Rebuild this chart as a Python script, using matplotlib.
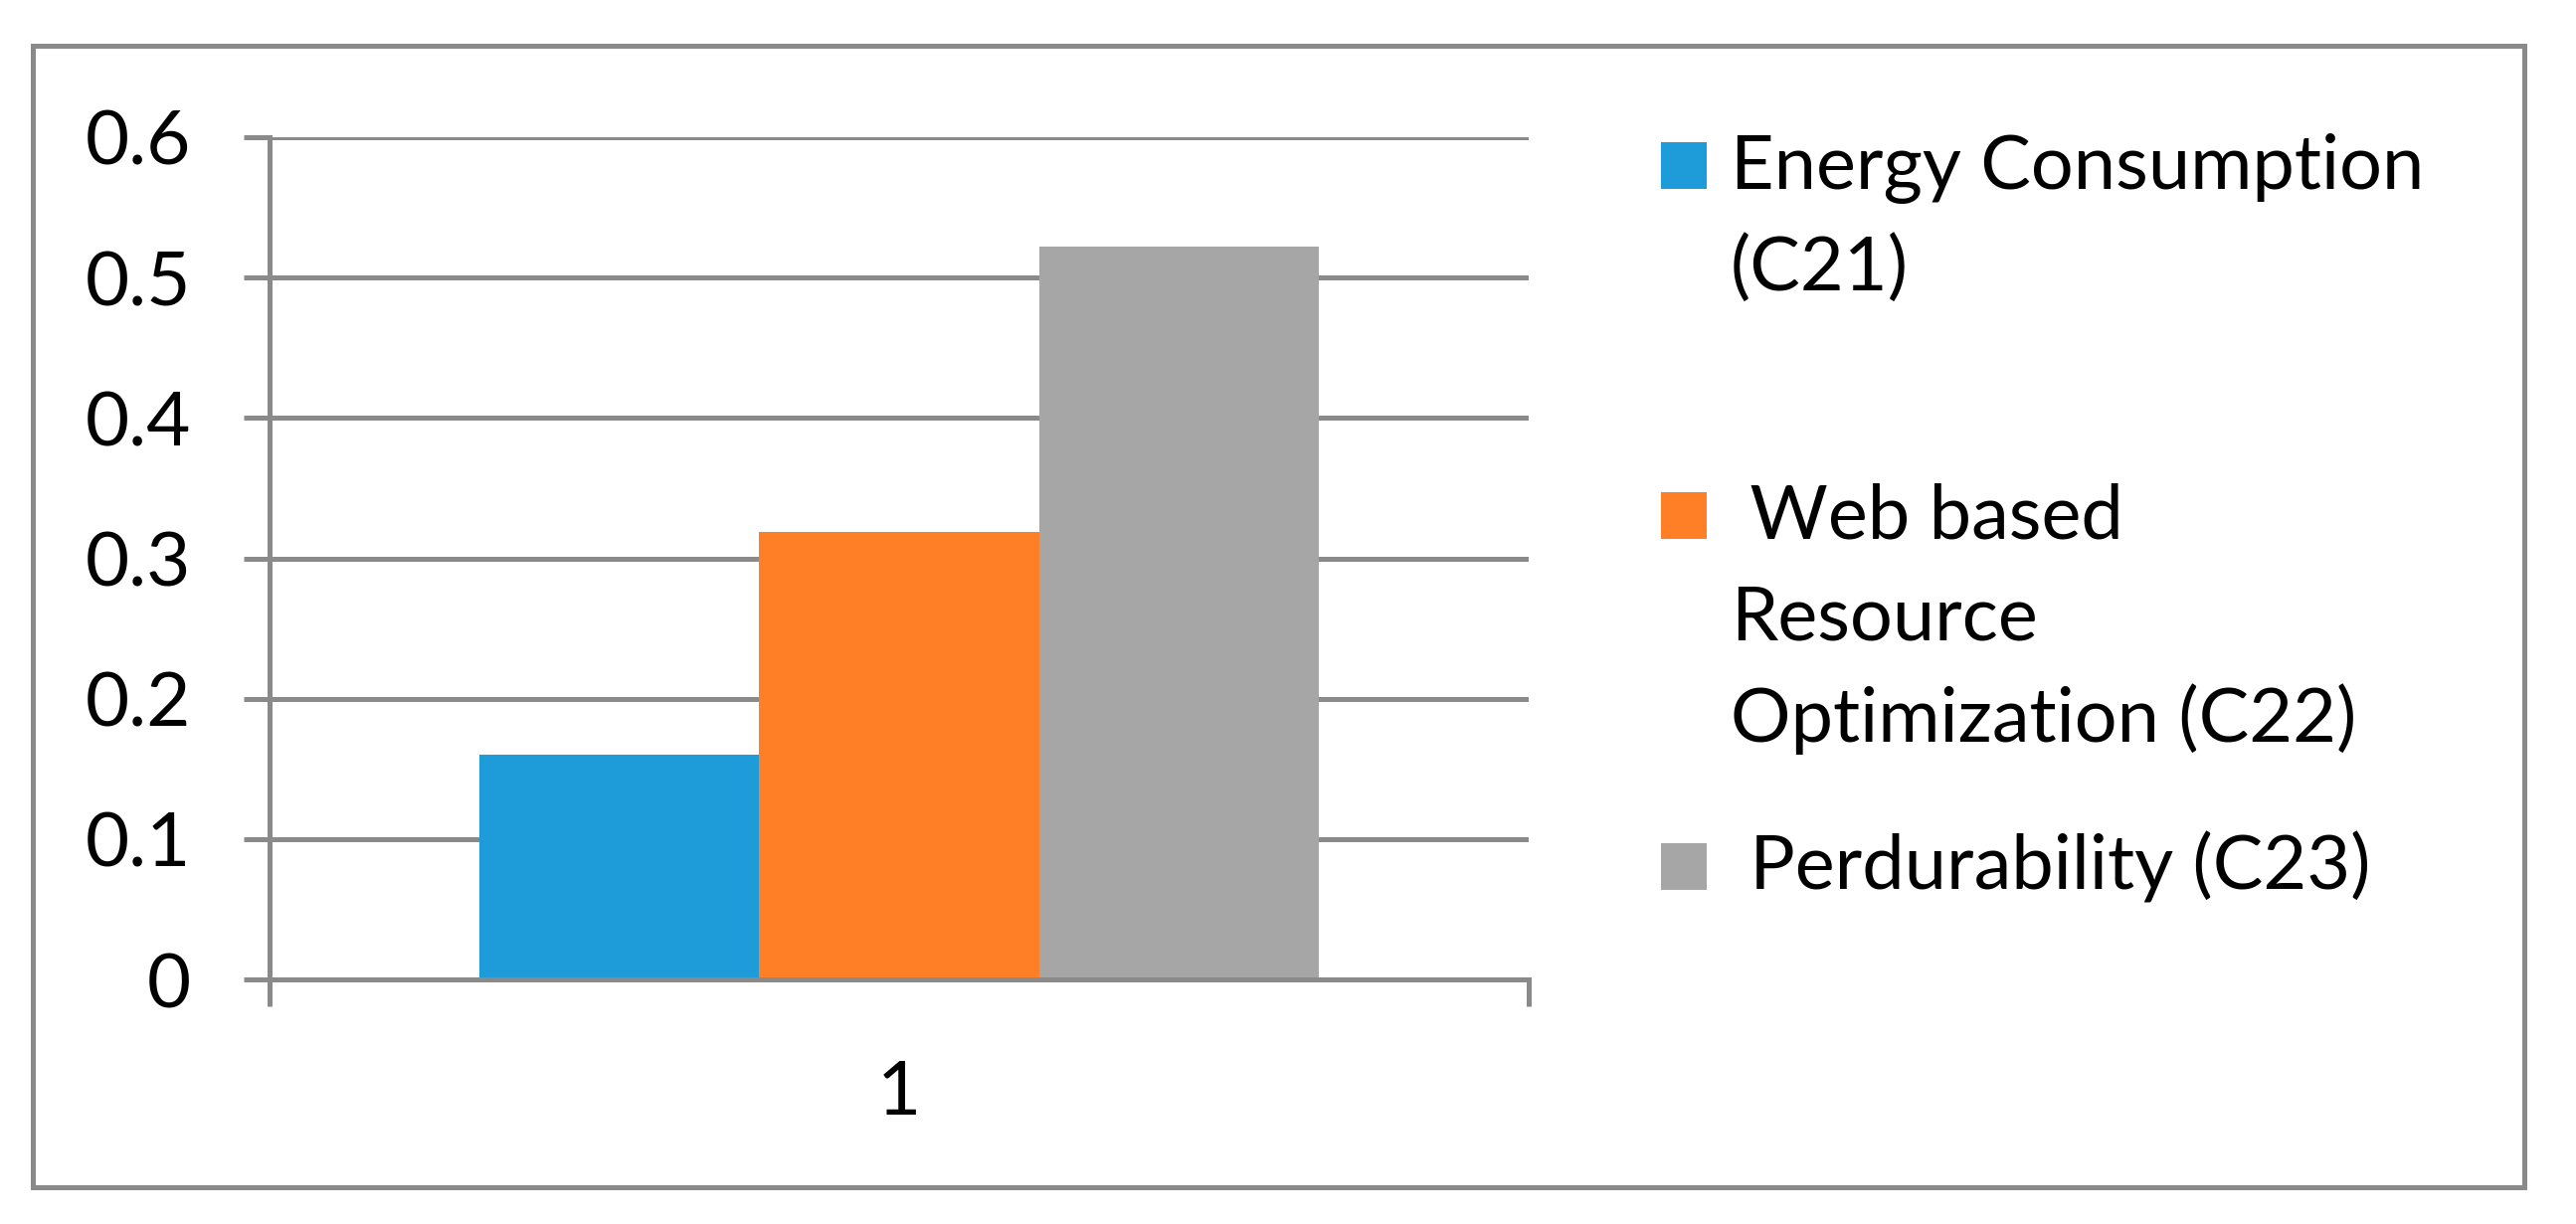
import matplotlib
matplotlib.use("Agg")
import matplotlib.pyplot as plt
from matplotlib.patches import Rectangle
import numpy as np

# ---- data ----
categories = ["1"]
series_labels = ["Energy Consumption\n(C21)",
                 " Web based\nResource\nOptimization (C22)",
                 " Perdurability (C23)"]
series_values = [0.160, 0.319, 0.522]
series_colors = ["#1E9CD9", "#FF7F27", "#A6A6A6"]
y_ticks = [0, 0.1, 0.2, 0.3, 0.4, 0.5, 0.6]
y_tick_labels = ["0", "0.1", "0.2", "0.3", "0.4", "0.5", "0.6"]

W, H = 2590, 1231
DPI = 100
FONT = "Lato"
GRID = "#8A8A8A"
LW = 5 * 72 / DPI  # 5 px

plt.rcParams['font.family'] = [FONT, 'DejaVu Sans']

fig = plt.figure(figsize=(W / DPI, H / DPI), dpi=DPI)
fig.patch.set_facecolor("white")

def fx(px):
    return px / W

def fy(py):
    return 1 - py / H

# outer border
fig.add_artist(Rectangle((fx(33), fy(1194)), fx(2538) - fx(33), fy(46) - fy(1194),
                         transform=fig.transFigure, fill=False,
                         edgecolor=GRID, linewidth=LW))

ax = fig.add_axes([fx(271), fy(985), fx(1537) - fx(271), fy(138) - fy(985)])
ax.set_facecolor("white")

x = np.arange(len(categories)) + 1
n = len(series_values)
bw = 0.2222
for i, (v, c) in enumerate(zip(series_values, series_colors)):
    ax.bar(x + (i - (n - 1) / 2) * bw, [v], width=bw, color=c, zorder=3, linewidth=0)

ax.set_xlim(0.5, 1.5)
ax.set_ylim(0, 0.6)
ax.set_yticks(y_ticks)
ax.set_yticklabels(y_tick_labels)
ax.set_xticks(x)
ax.set_xticklabels(categories)
ax.set_xticks([0.5, 1.5], minor=True)

ax.yaxis.grid(True, color=GRID, linewidth=LW, zorder=1)
ax.set_axisbelow(True)

for s in ["top", "right"]:
    ax.spines[s].set_visible(False)
for s in ["left", "bottom"]:
    ax.spines[s].set_color(GRID)
    ax.spines[s].set_linewidth(LW)
    ax.spines[s].set_zorder(4)

ax.tick_params(axis='y', length=26 * 72 / DPI, width=LW, color=GRID,
               labelsize=55, pad=53 * 72 / DPI, labelcolor="black")
ax.tick_params(axis='x', which='major', length=0, labelsize=55,
               pad=80 * 72 / DPI, labelcolor="black")
ax.tick_params(axis='x', which='minor', length=27 * 72 / DPI, width=LW, color=GRID)

# legend (manual, Excel-style: marker aligned with first line)
entry_baselines = [190, 542, 895]
line_pitch = 102
text_x = 1740
for lab, col, yb in zip(series_labels, series_colors, entry_baselines):
    fig.add_artist(Rectangle((fx(1670), fy(yb)), fx(46), fy(0) - fy(47),
                             transform=fig.transFigure, facecolor=col,
                             edgecolor="none"))
    for j, line in enumerate(lab.split("\n")):
        fig.text(fx(text_x), fy(yb + j * line_pitch), line, fontsize=54.5,
                 va="baseline", ha="left", color="black")

fig.savefig("out.png", dpi=DPI, facecolor="white")
